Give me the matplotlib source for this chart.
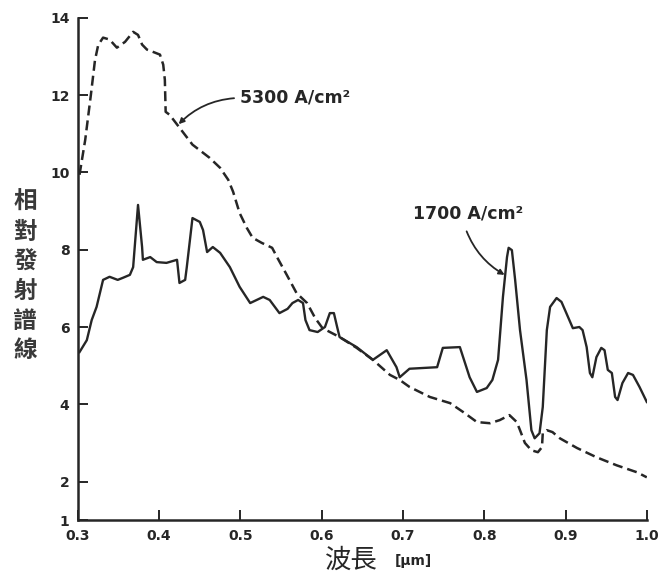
import matplotlib
matplotlib.use("Agg")
import matplotlib.pyplot as plt
import numpy as np

# spectrum at 5300 A/cm^2 (dashed)
wl_high = [0.302, 0.309, 0.316, 0.321, 0.325, 0.331, 0.339, 0.348, 0.358, 0.368,
           0.374, 0.379, 0.385, 0.395, 0.401, 0.405, 0.407, 0.408, 0.413, 0.425,
           0.441, 0.462, 0.475, 0.485, 0.491, 0.499, 0.508, 0.515, 0.526, 0.539,
           0.545, 0.557, 0.569, 0.582, 0.592, 0.601, 0.622, 0.643, 0.663, 0.684,
           0.696, 0.708, 0.733, 0.758, 0.774, 0.791, 0.807, 0.819, 0.831, 0.840,
           0.844, 0.850, 0.858, 0.866, 0.871, 0.872, 0.877, 0.884, 0.893, 0.914,
           0.938, 0.963, 0.988, 1.000]
em_high = [9.94, 10.84, 12.01, 12.90, 13.30, 13.49, 13.44, 13.23, 13.38, 13.64,
           13.56, 13.31, 13.18, 13.10, 13.05, 12.79, 12.40, 11.57, 11.49, 11.16,
           10.72, 10.38, 10.12, 9.81, 9.50, 8.95, 8.56, 8.31, 8.18, 8.05,
           7.81, 7.35, 6.88, 6.62, 6.23, 5.97, 5.74, 5.46, 5.15, 4.76,
           4.63, 4.45, 4.19, 4.03, 3.80, 3.54, 3.51, 3.59, 3.72, 3.54,
           3.33, 3.00, 2.81, 2.76, 2.89, 3.25, 3.33, 3.28, 3.12, 2.87,
           2.63, 2.42, 2.24, 2.11]

# spectrum at 1700 A/cm^2 (solid)
wl_low = [0.302, 0.311, 0.317, 0.323, 0.331, 0.339, 0.349, 0.355, 0.364, 0.368,
          0.374, 0.379, 0.380, 0.389, 0.397, 0.409, 0.422, 0.425, 0.432, 0.434,
          0.441, 0.450, 0.454, 0.459, 0.466, 0.475, 0.487, 0.499, 0.512, 0.528,
          0.536, 0.548, 0.558, 0.564, 0.571, 0.577, 0.580, 0.585, 0.595, 0.604,
          0.610, 0.615, 0.619, 0.622, 0.643, 0.663, 0.680, 0.692, 0.696, 0.708,
          0.742, 0.749, 0.770, 0.774, 0.782, 0.791, 0.803, 0.810, 0.817, 0.823,
          0.828, 0.830, 0.834, 0.838, 0.844, 0.852, 0.858, 0.862, 0.868, 0.872,
          0.877, 0.881, 0.889, 0.895, 0.901, 0.909, 0.917, 0.921, 0.926, 0.930,
          0.933, 0.938, 0.944, 0.948, 0.952, 0.957, 0.961, 0.964, 0.970, 0.977,
          0.983, 0.991, 1.000]
em_low = [5.35, 5.66, 6.18, 6.52, 7.22, 7.30, 7.22, 7.27, 7.35, 7.55,
          9.16, 8.07, 7.74, 7.81, 7.68, 7.66, 7.74, 7.14, 7.22, 7.55,
          8.82, 8.72, 8.51, 7.94, 8.07, 7.92, 7.55, 7.04, 6.62, 6.78,
          6.70, 6.36, 6.47, 6.62, 6.70, 6.62, 6.18, 5.92, 5.87, 6.00,
          6.36, 6.36, 6.00, 5.74, 5.48, 5.15, 5.40, 4.96, 4.70, 4.92,
          4.96, 5.46, 5.48, 5.22, 4.70, 4.32, 4.42, 4.63, 5.15, 6.78,
          7.81, 8.05, 7.99, 7.22, 5.92, 4.63, 3.33, 3.12, 3.25, 3.93,
          5.92, 6.52, 6.75, 6.65, 6.36, 5.97, 6.00, 5.92, 5.48, 4.81,
          4.70, 5.22, 5.46, 5.40, 4.89, 4.81, 4.19, 4.11, 4.55, 4.81,
          4.76, 4.45, 4.06]

x_ticks = [0.3, 0.4, 0.5, 0.6, 0.7, 0.8, 0.9, 1.0]
x_ticklabels = ["0.3", "0.4", "0.5", "0.6", "0.7", "0.8", "0.9", "1.0"]
y_ticks = [1, 2, 4, 6, 8, 10, 12, 14]

ink = "#262626"
cjk = ["Noto Sans CJK TC", "DejaVu Sans"]

fig = plt.figure(figsize=(6.6, 5.78), dpi=100)
ax = fig.add_axes([0.118, 0.100, 0.862, 0.869])

ax.plot(wl_high, em_high, color=ink, lw=1.8, ls=(0, (4, 2)))
ax.plot(wl_low, em_low, color=ink, lw=1.7)

ax.set_xlim(0.3, 1.0)
ax.set_ylim(1, 14)
ax.set_xticks(x_ticks)
ax.set_xticklabels(x_ticklabels)
ax.set_yticks(y_ticks)

for side in ("top", "right"):
    ax.spines[side].set_visible(False)
for side in ("left", "bottom"):
    ax.spines[side].set_linewidth(1.8)
    ax.spines[side].set_color(ink)

ax.tick_params(direction="in", length=7, width=1.4, color=ink,
               labelcolor=ink, labelsize=10, pad=6)
for lab in ax.get_xticklabels() + ax.get_yticklabels():
    lab.set_fontweight("bold")

# axis titles (y title stacked one character per line)
ax.text(-0.093, 0.486, "\n".join("相對發射譜線"), transform=ax.transAxes,
        family=cjk, fontsize=17, fontweight="bold", color="#3a3a3a",
        ha="center", va="center", linespacing=1.3)
fig.text(0.533, 0.031, "波長", family=cjk, fontsize=19, color=ink,
         ha="center", va="center")
fig.text(0.627, 0.029, "[μm]", fontsize=10, color=ink, ha="center",
         va="center", fontweight="bold")

# curve labels with leaders
ax.annotate("5300 A/cm²", xy=(0.424, 11.25), xytext=(0.499, 11.93),
            fontsize=12.5, fontweight="bold", color=ink, va="center", ha="left",
            arrowprops=dict(arrowstyle="-|>", color=ink, lw=1.3,
                            mutation_scale=8, shrinkA=2, shrinkB=0,
                            relpos=(0.0, 0.5),
                            connectionstyle="arc3,rad=0.2"))
ax.annotate("1700 A/cm²", xy=(0.825, 7.35), xytext=(0.712, 8.95),
            fontsize=12.5, fontweight="bold", color=ink, va="center", ha="left",
            arrowprops=dict(arrowstyle="-|>", color=ink, lw=1.3,
                            mutation_scale=8, shrinkA=5, shrinkB=0,
                            relpos=(0.46, 0.0),
                            connectionstyle="arc3,rad=0.2"))

fig.savefig("out.png", dpi=100, facecolor="white")
